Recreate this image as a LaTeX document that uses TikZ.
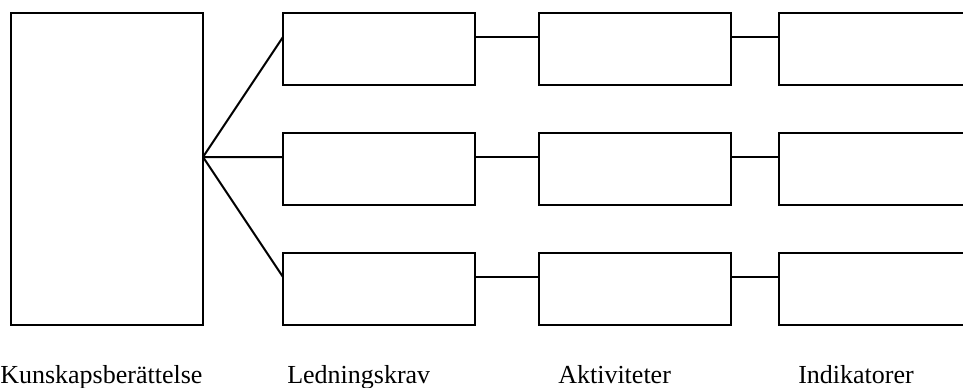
\documentclass[tikz,border=0pt]{standalone}
\usepackage{fontspec}
\setmainfont{Liberation Serif}
\usetikzlibrary{calc}
\begin{document}
\begin{tikzpicture}[x=0.75pt,y=-0.75pt,
  frame/.style={draw,line width=1.5pt,inner sep=0pt,outer sep=0pt,anchor=north west},
  smallbox/.style={frame,minimum width=144pt,minimum height=54pt},
  bigbox/.style={frame,minimum width=144pt,minimum height=234pt},
  link/.style={line width=1.5pt},
  caption/.style={inner sep=0pt,anchor=base west,font=\fontsize{19.5}{22}\selectfont}]
\useasboundingbox (0,0) rectangle (963,387);
\clip (0,0) rectangle (963,387);

% knowledge story
\node[bigbox] (K) at (11,13) {};
\coordinate (hub) at ($(K.north east)!144/312!(K.south east)$);

% three rows: requirement -> activity -> indicator
\foreach \r/\y in {1/13,2/133,3/253}{
  \node[smallbox] (L\r) at (283,\y) {};
  \node[smallbox] (A\r) at (539,\y) {};
  \node[smallbox] (I\r) at (779,\y) {};
  \draw[link] (hub) -- ($(L\r.north west)!1/3!(L\r.south west)$);
  \draw[link] ($(L\r.north east)!1/3!(L\r.south east)$) -- ($(A\r.north west)!1/3!(A\r.south west)$);
  \draw[link] ($(A\r.north east)!1/3!(A\r.south east)$) -- ($(I\r.north west)!1/3!(I\r.south west)$);
}

% column captions
\node[caption] (t1) at (0,383) {Kunskapsberättelse};
\node[caption] (t2) at (287,383) {Ledningskrav};
\node[caption] (t3) at (558,383) {Aktiviteter};
\node[caption] (t4) at (798,383) {Indikatorer};
\end{tikzpicture}
\end{document}
